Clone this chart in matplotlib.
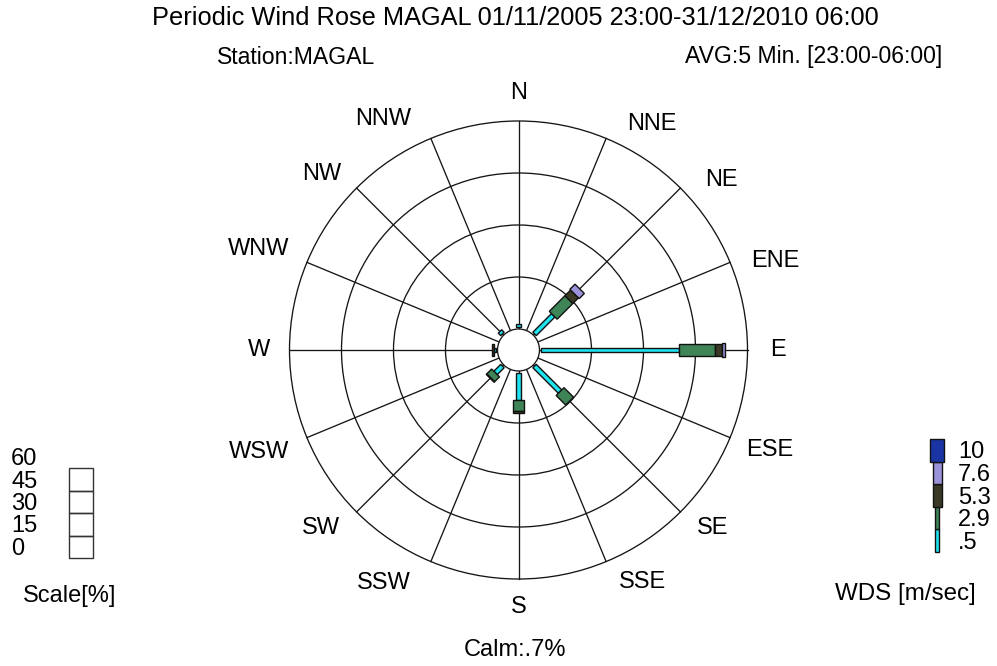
import numpy as np
import matplotlib
matplotlib.use('Agg')
import matplotlib.pyplot as plt
from matplotlib.patches import Rectangle, Circle
from matplotlib.transforms import Affine2D

plt.rcParams['font.family'] = ['Liberation Sans', 'DejaVu Sans']

# ---------------- data ----------------
directions = ['N', 'NNE', 'NE', 'ENE', 'E', 'ESE', 'SE', 'SSE',
              'S', 'SSW', 'SW', 'WSW', 'W', 'WNW', 'NW', 'NNW']
speed_labels = ['.5', '2.9', '5.3', '7.6', '10']
class_colors = ['#1fe3f0', '#3e8456', '#3a3926', '#9b93d9', '#1a35a3']
# frequency [%] per direction for each speed class
freq_05_29 = [1.0, 0, 7.6, 0, 39.7, 0, 10.4, 0, 7.8, 0, 2.8, 0, 0.4, 0, 1.0, 0]
freq_29_53 = [0, 0, 6.4, 0, 10.3, 0, 3.9, 0, 3.2, 0, 2.0, 0, 0, 0, 0, 0]
freq_53_76 = [0, 0, 2.3, 0, 2.1, 0, 0, 0, 0.7, 0, 0.2, 0, 0.8, 0, 0, 0]
freq_76_10 = [0, 0, 2.1, 0, 0.8, 0, 0, 0, 0, 0, 0, 0, 0, 0, 0, 0]
freq_10_up = [0] * 16
scale_ticks = [0, 15, 30, 45, 60]
calm_pct = 0.7

title = 'Periodic Wind Rose MAGAL 01/11/2005 23:00-31/12/2010 06:00'
station = 'Station:MAGAL'
avg_text = 'AVG:5 Min. [23:00-06:00]'

# ---------------- layout ----------------
W, H = 997, 666
fig = plt.figure(figsize=(W / 100, H / 100), dpi=100)
fig.patch.set_facecolor('white')

PX = 52.0 / 15.0          # pixels per percent
calm_r = 21.0 / PX        # calm circle radius in % units
cx, cy = 518.5, 350.0     # rose centre in pixels (from top)
half = 300.0
ax = fig.add_axes([(cx - half) / W, (H - cy - half) / H, 2 * half / W, 2 * half / H])
lim = half / PX
ax.set_xlim(-lim, lim)
ax.set_ylim(-lim, lim)
ax.set_aspect('equal')
ax.axis('off')

FS = 17
line_c = '#151515'

outer = calm_r + scale_ticks[-1]
for t in scale_ticks[1:]:
    ax.add_patch(Circle((0, 0), calm_r + t, fill=False, ec=line_c, lw=0.95, zorder=1))

angles = np.arange(16) * 22.5
for a in angles:
    s, c = np.sin(np.radians(a)), np.cos(np.radians(a))
    ax.plot([calm_r * s, outer * s], [calm_r * c, outer * c], color=line_c, lw=0.95, zorder=1)

ax.add_patch(Circle((0, 0), calm_r, fc='white', ec=line_c, lw=0.95, zorder=2))

classes = [freq_05_29, freq_29_53, freq_53_76, freq_76_10, freq_10_up]
bar_w = [1.4, 3.2, 3.2, 3.8, 4.3]
gap = 0.5
for i, a in enumerate(angles):
    r0 = calm_r + gap
    for k, vals in enumerate(classes):
        v = vals[i]
        if v <= 0:
            continue
        tr = Affine2D().rotate_deg(90 - a) + ax.transData
        ax.add_patch(Rectangle((r0, -bar_w[k] / 2), v, bar_w[k], transform=tr,
                               fc=class_colors[k], ec='#111111', lw=1.0, zorder=3 + k))
        r0 += v

# direction labels (small pixel nudges: dx right, dy down)
nudge = [(0, 0), (12, 7), (8, 8), (0, 7), (0, 0), (-5, 4), (0, 0), (4, -1),
         (0, 0), (-11, 0), (0, 0), (3, 6), (4, 0), (4, -5), (1, 2), (-11, 2)]
for name, a, (ndx, ndy) in zip(directions, angles, nudge):
    s, c = np.sin(np.radians(a)), np.cos(np.radians(a))
    if a in (0, 180):
        rl = 257 / PX
        ha = 'center'
    else:
        rl = 252 / PX
        ha = 'left' if a < 180 else 'right'
    ax.text(rl * s + ndx / PX, rl * c - ndy / PX, name, ha=ha, va='center',
            fontsize=FS, clip_on=False)

# ---------------- texts / legends (pixel overlay) ----------------
ov = fig.add_axes([0, 0, 1, 1], zorder=-1)
ov.set_xlim(0, W)
ov.set_ylim(H, 0)
ov.axis('off')

ov.text(515, 18, title, ha='center', va='center', fontsize=18.3)
ov.text(217, 57, station, ha='left', va='center', fontsize=16.6)
ov.text(942, 57, avg_text, ha='right', va='center', fontsize=16.6)
ov.text(515, 650, 'Calm:%s%%' % ('%.1f' % calm_pct).lstrip('0'),
        ha='center', va='center', fontsize=FS)

# scale legend
box_top, box_h = 468, 22.5
for j in range(len(scale_ticks) - 1):
    ov.add_patch(Rectangle((69, box_top + j * box_h), 24, box_h, fill=False,
                           ec='#333333', lw=1.0))
for j, t in enumerate(scale_ticks[::-1]):
    ov.text(11, box_top + j * box_h - 9, str(t), ha='left', va='center', fontsize=FS)
ov.text(23, 596, 'Scale[%]', ha='left', va='center', fontsize=FS)

# speed legend
leg_w = [4, 4, 9, 9, 13.6]
leg_h = 22.6
leg_bottom = 552
for k in range(len(speed_labels)):
    y0 = leg_bottom - (k + 1) * leg_h
    ov.add_patch(Rectangle((937 - leg_w[k] / 2, y0), leg_w[k], leg_h,
                           fc=class_colors[k], ec='#111111', lw=1.0))
    ov.text(958, y0 + leg_h / 2 + 2, speed_labels[k], ha='left', va='center', fontsize=FS)
ov.text(835, 594, 'WDS [m/sec]', ha='left', va='center', fontsize=17.4)

fig.savefig('out.png', dpi=100, facecolor='white')
